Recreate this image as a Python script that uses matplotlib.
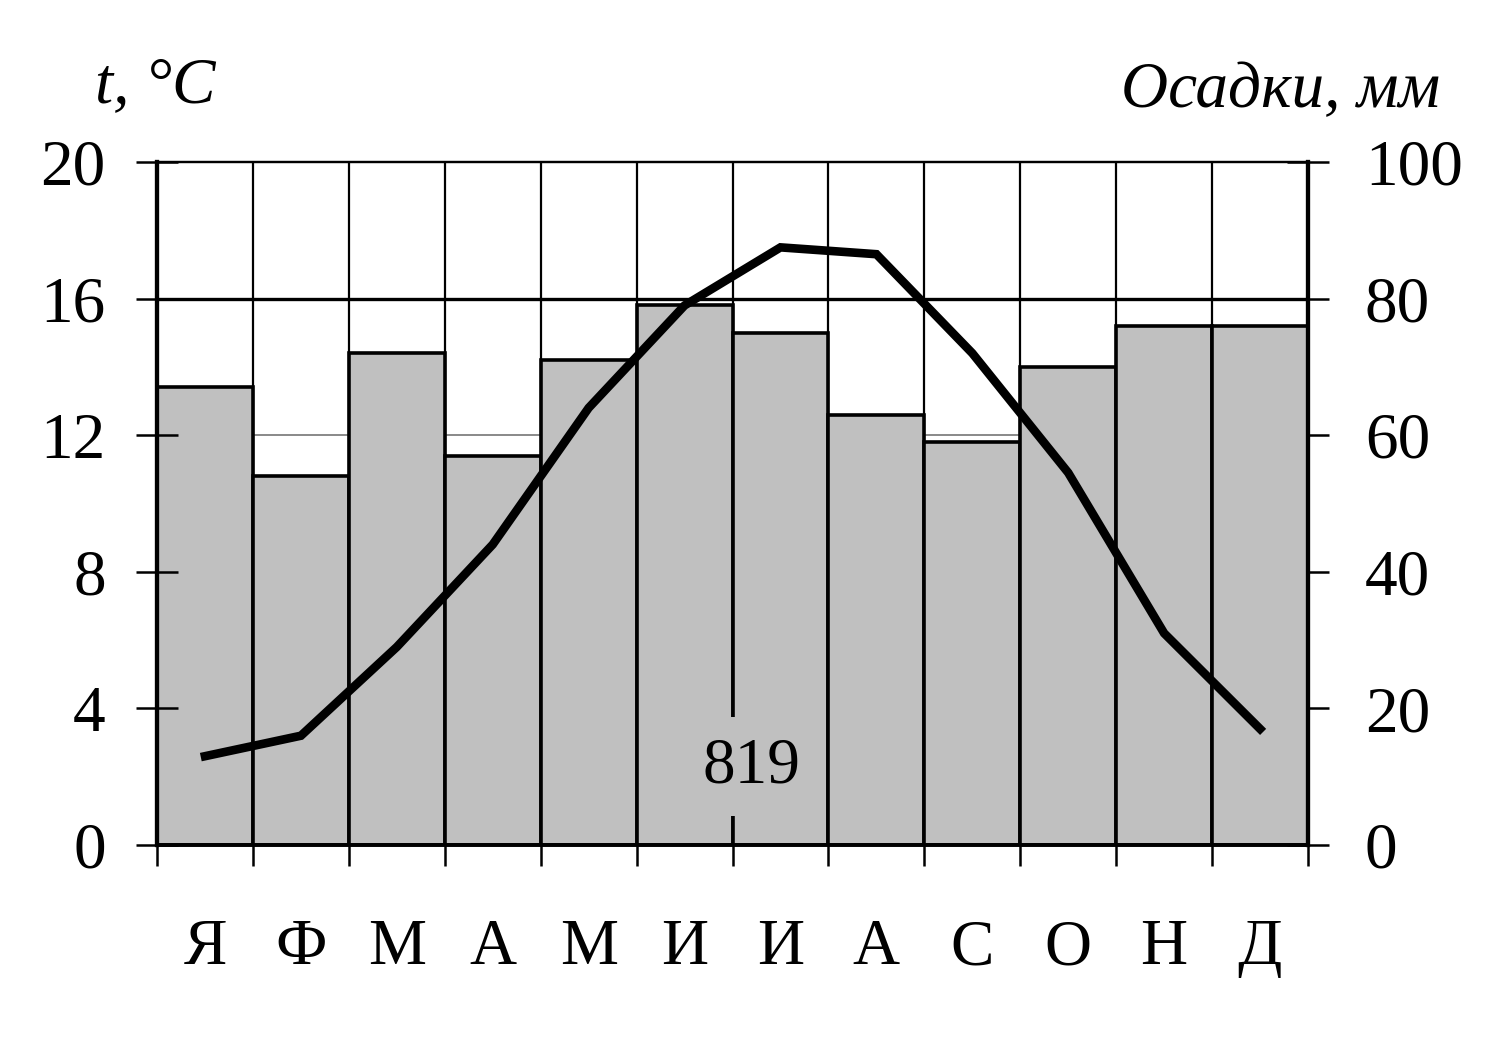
import matplotlib.pyplot as plt

plt.rcParams['font.family'] = ['Liberation Serif', 'DejaVu Serif']

# climate data
months = ['Я', 'Ф', 'М', 'А', 'М', 'И', 'И', 'А', 'С', 'О', 'Н', 'Д']
precip = [67, 54, 72, 57, 71, 79, 75, 63, 59, 70, 76, 76]   # mm
temp = [2.6, 3.2, 5.8, 8.8, 12.8, 15.8, 17.5, 17.3, 14.4, 10.9, 6.2, 3.4]  # deg C
t_ticks = [0, 4, 8, 12, 16, 20]
p_ticks = [0, 20, 40, 60, 80, 100]

x = list(range(len(months)))
bounds = [i - 0.5 for i in range(len(months) + 1)]

fig = plt.figure(figsize=(14.93, 10.54), dpi=100)
ax = fig.add_axes([0.1052, 0.1983, 0.7709, 0.6480])
ax2 = ax.twinx()
ax.set_zorder(2)
ax2.set_zorder(1)
ax.patch.set_visible(False)

fs = 47

# grid and bars on the precipitation axis
for b in bounds[1:-1]:
    ax2.axvline(b, color='black', lw=1.6, zorder=0.5)
ax2.axhline(80, color='black', lw=2.4, zorder=0.5)
ax2.axhline(60, color='#808080', lw=1.3, zorder=0.5)
ax2.bar(x, precip, width=1.0, color='#c0c0c0', edgecolor='black', lw=2.6, zorder=2)
ax2.set_ylim(0, 100)
ax2.set_yticks(p_ticks)
ax2.tick_params(axis='y', direction='inout', length=30, width=1.8, pad=26, labelsize=fs)

# temperature line
ax.plot(x, temp, color='black', lw=6.2, solid_joinstyle='miter', zorder=3)
ax.set_xlim(-0.5, 11.5)
ax.set_ylim(0, 20)
ax.set_yticks(t_ticks)
ax.tick_params(axis='y', direction='inout', length=30, width=1.8, pad=22, labelsize=fs)
ax.set_xticks(bounds)
ax.set_xticklabels([])
ax.tick_params(axis='x', which='major', direction='out', length=15, width=1.8)
ax.set_xticks(x, minor=True)
ax.set_xticklabels(months, minor=True)
ax.tick_params(axis='x', which='minor', length=0, pad=53, labelsize=fs)

ax.text(5.7, 2.3, str(sum(precip)), fontsize=fs, ha='center', va='center', zorder=4,
        bbox=dict(boxstyle='square,pad=0.3', facecolor='#c0c0c0', edgecolor='none'))

for a in (ax, ax2):
    a.spines['left'].set_linewidth(3.0)
    a.spines['right'].set_linewidth(3.0)
    a.spines['bottom'].set_linewidth(2.6)
    a.spines['top'].set_linewidth(1.6)

fig.text(0.0636, 0.9032, 't, °C', fontsize=fs, style='italic', ha='left', va='baseline')
fig.text(0.9645, 0.8985, 'Осадки, мм', fontsize=fs, style='italic', ha='right', va='baseline')

plt.savefig('out.png', dpi=100)
